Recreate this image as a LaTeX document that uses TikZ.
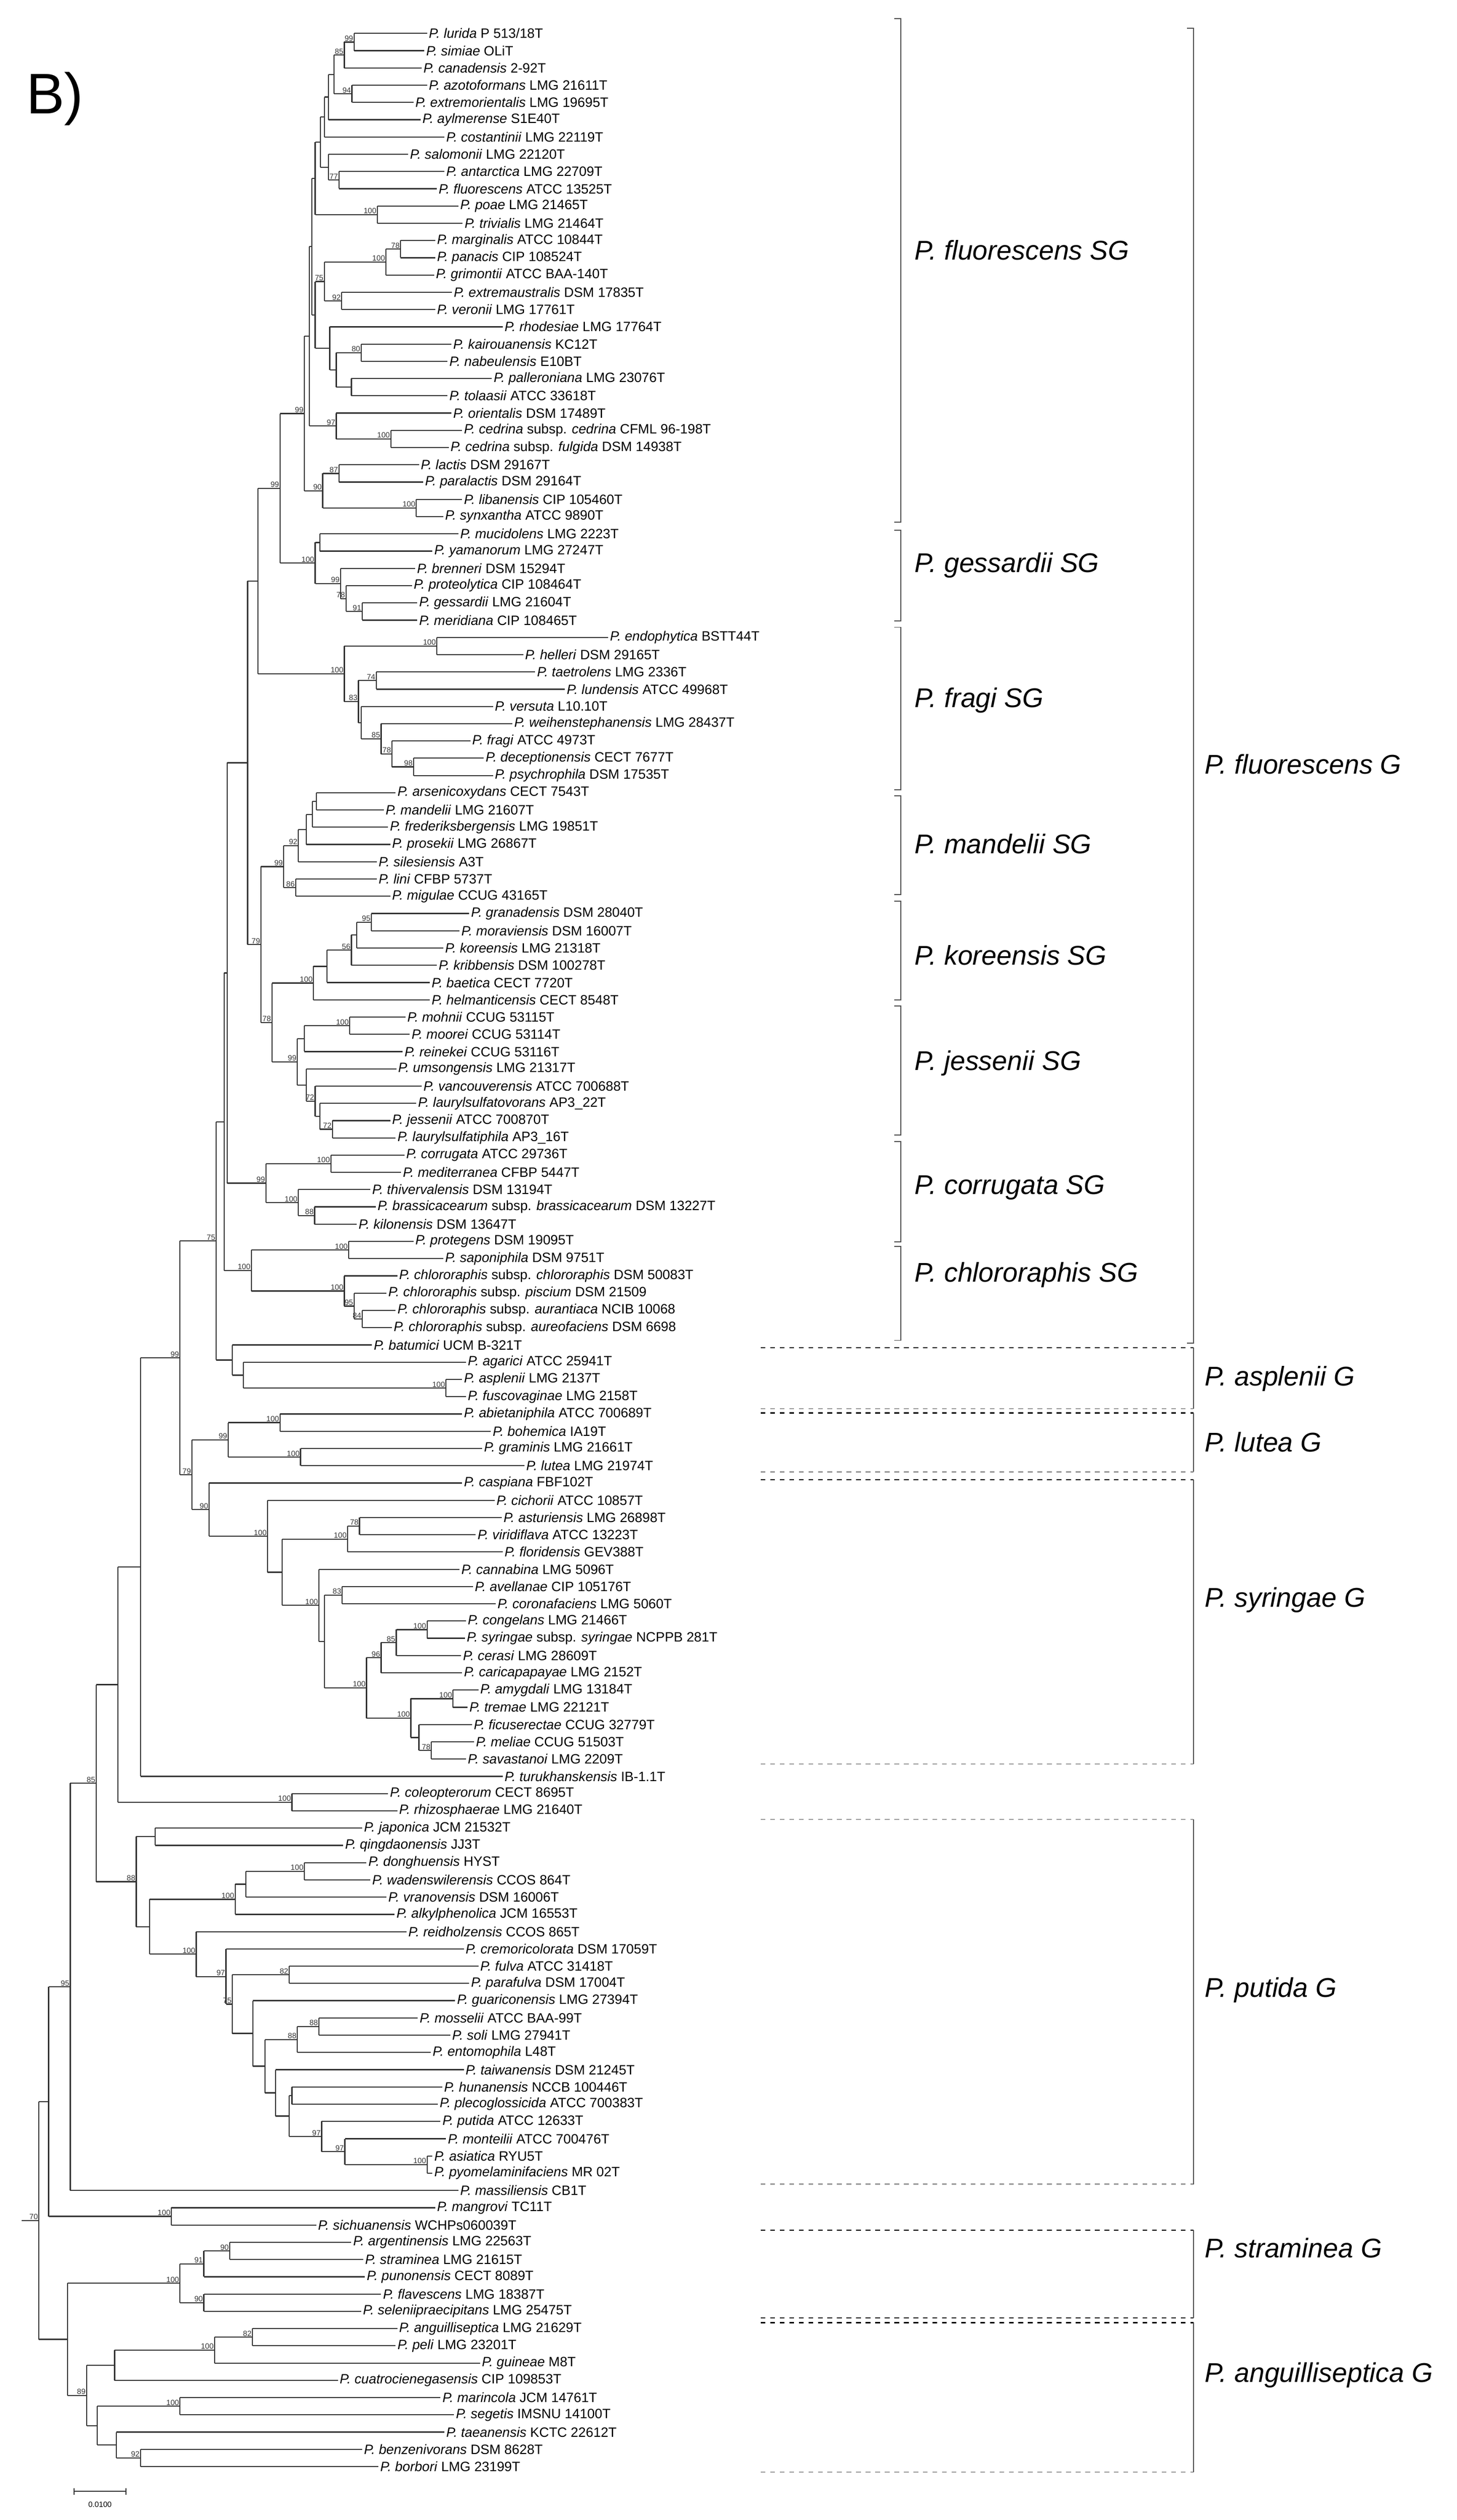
\documentclass[tikz,border=0pt]{standalone}
\usepackage{fontspec}
\setmainfont{Liberation Sans}
\usetikzlibrary{calc}
\newcommand\sn[1]{\textit{#1}}
\tikzset{
 br/.style={line width=0.7pt,black!80},
 leaf/.style={anchor=west,inner sep=1pt,font=\fontsize{8.5}{9}\selectfont},
 bsl/.style={anchor=south east,inner sep=0.4pt,font=\fontsize{4.8}{5}\selectfont,text=black!80},
 brk/.style={line width=0.6pt,black!70},
 grp/.style={anchor=west,inner sep=0pt,font=\fontsize{17}{18}\selectfont\itshape},
 dtop/.style={line width=0.7pt,dashed,black},
 dbot/.style={line width=0.7pt,dashed,black!40},
}
\newcommand\lf[3]{\coordinate (L#1) at (#2,{21+(#1-1)*10.84});\node[leaf] (T#1) at (L#1) {#3};}
\newcommand\cl[6]{%
 \coordinate (#1) at ($(#2,0 |- #4)!0.5!(#2,0 |- #5)$);
 \draw[br] (#2,0 |- #4) -- (#2,0 |- #5);
 \foreach \c in {#6} {\draw[br] (#2,0 |- \c) -- (\c);}
 \node[bsl] (bs#1) at (#1) {#3};}
\begin{document}
\begin{tikzpicture}[x=0.3397pt,y=-1pt]
\path[use as bounding box] (0pt,0pt) rectangle (915.4pt,-1583pt);
\node[anchor=west,inner sep=0pt,font=\fontsize{36}{36}\selectfont] (title) at (48,62) {B)};
\lf{1}{790}{\sn{P. lurida} P 513/18T}
\lf{2}{785}{\sn{P. simiae} OLiT}
\lf{3}{780}{\sn{P. canadensis} 2-92T}
\lf{4}{790}{\sn{P. azotoformans} LMG 21611T}
\lf{5}{765}{\sn{P. extremorientalis} LMG 19695T}
\lf{6}{778}{\sn{P. aylmerense} S1E40T}
\lf{7}{822}{\sn{P. costantinii} LMG 22119T}
\lf{8}{755}{\sn{P. salomonii} LMG 22120T}
\lf{9}{822}{\sn{P. antarctica} LMG 22709T}
\lf{10}{808}{\sn{P. fluorescens} ATCC 13525T}
\lf{11}{848}{\sn{P. poae} LMG 21465T}
\lf{12}{856}{\sn{P. trivialis} LMG 21464T}
\lf{13}{805}{\sn{P. marginalis} ATCC 10844T}
\lf{14}{805}{\sn{P. panacis} CIP 108524T}
\lf{15}{803}{\sn{P. grimontii} ATCC BAA-140T}
\lf{16}{836}{\sn{P. extremaustralis} DSM 17835T}
\lf{17}{805}{\sn{P. veronii} LMG 17761T}
\lf{18}{930}{\sn{P. rhodesiae} LMG 17764T}
\lf{19}{835}{\sn{P. kairouanensis} KC12T}
\lf{20}{828}{\sn{P. nabeulensis} E10BT}
\lf{21}{910}{\sn{P. palleroniana} LMG 23076T}
\lf{22}{828}{\sn{P. tolaasii} ATCC 33618T}
\lf{23}{835}{\sn{P. orientalis} DSM 17489T}
\lf{24}{855}{\sn{P. cedrina} subsp. \sn{cedrina} CFML 96-198T}
\lf{25}{830}{\sn{P. cedrina} subsp. \sn{fulgida} DSM 14938T}
\lf{26}{775}{\sn{P. lactis} DSM 29167T}
\lf{27}{783}{\sn{P. paralactis} DSM 29164T}
\lf{28}{855}{\sn{P. libanensis} CIP 105460T}
\lf{29}{820}{\sn{P. synxantha} ATCC 9890T}
\lf{30}{848}{\sn{P. mucidolens} LMG 2223T}
\lf{31}{800}{\sn{P. yamanorum} LMG 27247T}
\lf{32}{768}{\sn{P. brenneri} DSM 15294T}
\lf{33}{762}{\sn{P. proteolytica} CIP 108464T}
\lf{34}{772}{\sn{P. gessardii} LMG 21604T}
\lf{35}{772}{\sn{P. meridiana} CIP 108465T}
\lf{36}{1125}{\sn{P. endophytica} BSTT44T}
\lf{37}{968}{\sn{P. helleri} DSM 29165T}
\lf{38}{990}{\sn{P. taetrolens} LMG 2336T}
\lf{39}{1045}{\sn{P. lundensis} ATCC 49968T}
\lf{40}{912}{\sn{P. versuta} L10.10T}
\lf{41}{948}{\sn{P. weihenstephanensis} LMG 28437T}
\lf{42}{870}{\sn{P. fragi} ATCC 4973T}
\lf{43}{895}{\sn{P. deceptionensis} CECT 7677T}
\lf{44}{912}{\sn{P. psychrophila} DSM 17535T}
\lf{45}{732}{\sn{P. arsenicoxydans} CECT 7543T}
\lf{46}{710}{\sn{P. mandelii} LMG 21607T}
\lf{47}{718}{\sn{P. frederiksbergensis} LMG 19851T}
\lf{48}{722}{\sn{P. prosekii} LMG 26867T}
\lf{49}{697}{\sn{P. silesiensis} A3T}
\lf{50}{697}{\sn{P. lini} CFBP 5737T}
\lf{51}{722}{\sn{P. migulae} CCUG 43165T}
\lf{52}{868}{\sn{P. granadensis} DSM 28040T}
\lf{53}{850}{\sn{P. moraviensis} DSM 16007T}
\lf{54}{820}{\sn{P. koreensis} LMG 21318T}
\lf{55}{808}{\sn{P. kribbensis} DSM 100278T}
\lf{56}{795}{\sn{P. baetica} CECT 7720T}
\lf{57}{795}{\sn{P. helmanticensis} CECT 8548T}
\lf{58}{750}{\sn{P. mohnii} CCUG 53115T}
\lf{59}{758}{\sn{P. moorei} CCUG 53114T}
\lf{60}{745}{\sn{P. reinekei} CCUG 53116T}
\lf{61}{733}{\sn{P. umsongensis} LMG 21317T}
\lf{62}{780}{\sn{P. vancouverensis} ATCC 700688T}
\lf{63}{770}{\sn{P. laurylsulfatovorans} AP3\_22T}
\lf{64}{722}{\sn{P. jessenii} ATCC 700870T}
\lf{65}{732}{\sn{P. laurylsulfatiphila} AP3\_16T}
\lf{66}{748}{\sn{P. corrugata} ATCC 29736T}
\lf{67}{742}{\sn{P. mediterranea} CFBP 5447T}
\lf{68}{685}{\sn{P. thivervalensis} DSM 13194T}
\lf{69}{695}{\sn{P. brassicacearum} subsp. \sn{brassicacearum} DSM 13227T}
\lf{70}{660}{\sn{P. kilonensis} DSM 13647T}
\lf{71}{765}{\sn{P. protegens} DSM 19095T}
\lf{72}{820}{\sn{P. saponiphila} DSM 9751T}
\lf{73}{735}{\sn{P. chlororaphis} subsp. \sn{chlororaphis} DSM 50083T}
\lf{74}{715}{\sn{P. chlororaphis} subsp. \sn{piscium} DSM 21509}
\lf{75}{732}{\sn{P. chlororaphis} subsp. \sn{aurantiaca} NCIB 10068}
\lf{76}{725}{\sn{P. chlororaphis} subsp. \sn{aureofaciens} DSM 6698}
\lf{77}{688}{\sn{P. batumici} UCM B-321T}
\lf{78}{862}{\sn{P. agarici} ATCC 25941T}
\lf{79}{855}{\sn{P. asplenii} LMG 2137T}
\lf{80}{862}{\sn{P. fuscovaginae} LMG 2158T}
\lf{81}{855}{\sn{P. abietaniphila} ATCC 700689T}
\lf{82}{908}{\sn{P. bohemica} IA19T}
\lf{83}{892}{\sn{P. graminis} LMG 21661T}
\lf{84}{970}{\sn{P. lutea} LMG 21974T}
\lf{85}{855}{\sn{P. caspiana} FBF102T}
\lf{86}{915}{\sn{P. cichorii} ATCC 10857T}
\lf{87}{928}{\sn{P. asturiensis} LMG 26898T}
\lf{88}{880}{\sn{P. viridiflava} ATCC 13223T}
\lf{89}{930}{\sn{P. floridensis} GEV388T}
\lf{90}{850}{\sn{P. cannabina} LMG 5096T}
\lf{91}{875}{\sn{P. avellanae} CIP 105176T}
\lf{92}{917}{\sn{P. coronafaciens} LMG 5060T}
\lf{93}{862}{\sn{P. congelans} LMG 21466T}
\lf{94}{860}{\sn{P. syringae} subsp. \sn{syringae} NCPPB 281T}
\lf{95}{853}{\sn{P. cerasi} LMG 28609T}
\lf{96}{855}{\sn{P. caricapapayae} LMG 2152T}
\lf{97}{885}{\sn{P. amygdali} LMG 13184T}
\lf{98}{865}{\sn{P. tremae} LMG 22121T}
\lf{99}{873}{\sn{P. ficuserectae} CCUG 32779T}
\lf{100}{877}{\sn{P. meliae} CCUG 51503T}
\lf{101}{862}{\sn{P. savastanoi} LMG 2209T}
\lf{102}{930}{\sn{P. turukhanskensis} IB-1.1T}
\lf{103}{718}{\sn{P. coleopterorum} CECT 8695T}
\lf{104}{735}{\sn{P. rhizosphaerae} LMG 21640T}
\lf{105}{670}{\sn{P. japonica} JCM 21532T}
\lf{106}{635}{\sn{P. qingdaonensis} JJ3T}
\lf{107}{678}{\sn{P. donghuensis} HYST}
\lf{108}{685}{\sn{P. wadenswilerensis} CCOS 864T}
\lf{109}{715}{\sn{P. vranovensis} DSM 16006T}
\lf{110}{730}{\sn{P. alkylphenolica} JCM 16553T}
\lf{111}{752}{\sn{P. reidholzensis} CCOS 865T}
\lf{112}{858}{\sn{P. cremoricolorata} DSM 17059T}
\lf{113}{885}{\sn{P. fulva} ATCC 31418T}
\lf{114}{868}{\sn{P. parafulva} DSM 17004T}
\lf{115}{842}{\sn{P. guariconensis} LMG 27394T}
\lf{116}{773}{\sn{P. mosselii} ATCC BAA-99T}
\lf{117}{833}{\sn{P. soli} LMG 27941T}
\lf{118}{797}{\sn{P. entomophila} L48T}
\lf{119}{858}{\sn{P. taiwanensis} DSM 21245T}
\lf{120}{818}{\sn{P. hunanensis} NCCB 100446T}
\lf{121}{810}{\sn{P. plecoglossicida} ATCC 700383T}
\lf{122}{815}{\sn{P. putida} ATCC 12633T}
\lf{123}{825}{\sn{P. monteilii} ATCC 700476T}
\lf{124}{800}{\sn{P. asiatica} RYU5T}
\lf{125}{800}{\sn{P. pyomelaminifaciens} MR 02T}
\lf{126}{848}{\sn{P. massiliensis} CB1T}
\lf{127}{805}{\sn{P. mangrovi} TC11T}
\lf{128}{585}{\sn{P. sichuanensis} WCHPs060039T}
\lf{129}{650}{\sn{P. argentinensis} LMG 22563T}
\lf{130}{672}{\sn{P. straminea} LMG 21615T}
\lf{131}{675}{\sn{P. punonensis} CECT 8089T}
\lf{132}{705}{\sn{P. flavescens} LMG 18387T}
\lf{133}{668}{\sn{P. seleniipraecipitans} LMG 25475T}
\lf{134}{735}{\sn{P. anguilliseptica} LMG 21629T}
\lf{135}{732}{\sn{P. peli} LMG 23201T}
\lf{136}{888}{\sn{P. guineae} M8T}
\lf{137}{625}{\sn{P. cuatrocienegasensis} CIP 109853T}
\lf{138}{815}{\sn{P. marincola} JCM 14761T}
\lf{139}{840}{\sn{P. segetis} IMSNU 14100T}
\lf{140}{822}{\sn{P. taeanensis} KCTC 22612T}
\lf{141}{670}{\sn{P. benzenivorans} DSM 8628T}
\lf{142}{700}{\sn{P. borbori} LMG 23199T}
% fluorescens SG
\cl{a1}{655}{99}{L1}{L2}{L1,L2}
\cl{a2}{637}{85}{a1}{L3}{a1,L3}
\cl{a3}{651}{94}{L4}{L5}{L4,L5}
\cl{a4}{618}{}{a2}{a3}{a2,a3}
\cl{a5}{608}{}{a4}{L6}{a4,L6}
\cl{a6}{600}{}{a5}{L7}{a5,L7}
\cl{a7}{627}{77}{L9}{L10}{L9,L10}
\cl{a8}{608}{}{L8}{a7}{L8,a7}
\cl{a9}{593}{}{a6}{a8}{a6,a8}
\cl{a10}{698}{100}{L11}{L12}{L11,L12}
\cl{a11}{583}{}{a9}{a10}{a9,a10}
\cl{a12}{741}{78}{L13}{L14}{L13,L14}
\cl{a13}{714}{100}{a12}{L15}{a12,L15}
\cl{a14}{632}{92}{L16}{L17}{L16,L17}
\cl{a15}{600}{75}{a13}{a14}{a13,a14}
\cl{a16}{668}{80}{L19}{L20}{L19,L20}
\cl{a17}{650}{}{L21}{L22}{L21,L22}
\cl{a18}{622}{}{a16}{a17}{a16,a17}
\cl{a19}{610}{}{L18}{a18}{L18,a18}
\cl{a20}{583}{}{a15}{a19}{a15,a19}
\cl{a21}{577}{}{a11}{a20}{a11,a20}
\cl{a22}{723}{100}{L24}{L25}{L24,L25}
\cl{a23}{622}{97}{L23}{a22}{L23,a22}
\cl{a24}{572}{}{a21}{a23}{a21,a23}
\cl{a25}{627}{87}{L26}{L27}{L26,L27}
\cl{a26}{770}{100}{L28}{L29}{L28,L29}
\cl{a27}{597}{90}{a25}{a26}{a25,a26}
\cl{a28}{563}{99}{a24}{a27}{a24,a27}
% gessardii SG
\cl{b1}{592}{}{L30}{L31}{L30,L31}
\cl{b2}{670}{91}{L34}{L35}{L34,L35}
\cl{b3}{640}{78}{L33}{b2}{L33,b2}
\cl{b4}{630}{99}{L32}{b3}{L32,b3}
\cl{b5}{583}{100}{b1}{b4}{b1,b4}
\cl{b6}{518}{99}{a28}{b5}{a28,b5}
% fragi SG
\cl{c1}{808}{100}{L36}{L37}{L36,L37}
\cl{c2}{696}{74}{L38}{L39}{L38,L39}
\cl{c3}{765}{98}{L43}{L44}{L43,L44}
\cl{c4}{725}{78}{L42}{c3}{L42,c3}
\cl{c5}{705}{85}{L41}{c4}{L41,c4}
\cl{c6}{668}{}{L40}{c5}{L40,c5}
\cl{c7}{663}{83}{c2}{c6}{c2,c6}
\cl{c8}{637}{100}{c1}{c7}{c1,c7}
\cl{c9}{477}{}{b6}{c8}{b6,c8}
% mandelii SG
\cl{d1}{585}{}{L45}{L46}{L45,L46}
\cl{d2}{578}{}{d1}{L47}{d1,L47}
\cl{d3}{567}{}{d2}{L48}{d2,L48}
\cl{d4}{552}{92}{d3}{L49}{d3,L49}
\cl{d5}{547}{86}{L50}{L51}{L50,L51}
\cl{d6}{525}{99}{d4}{d5}{d4,d5}
% koreensis SG
\cl{e1}{687}{95}{L52}{L53}{L52,L53}
\cl{e2}{660}{}{e1}{L54}{e1,L54}
\cl{e3}{650}{56}{e2}{L55}{e2,L55}
\cl{e4}{605}{}{e3}{L56}{e3,L56}
\cl{e5}{580}{100}{e4}{L57}{e4,L57}
% jessenii SG
\cl{f1}{647}{100}{L58}{L59}{L58,L59}
\cl{f2}{563}{}{f1}{L60}{f1,L60}
\cl{f3}{615}{72}{L64}{L65}{L64,L65}
\cl{f4}{592}{}{L63}{f3}{L63,f3}
\cl{f5}{583}{72}{L62}{f4}{L62,f4}
\cl{f6}{567}{}{L61}{f5}{L61,f5}
\cl{f7}{550}{99}{f2}{f6}{f2,f6}
\cl{g1}{503}{78}{e5}{f7}{e5,f7}
\cl{g2}{483}{79}{d6}{g1}{d6,g1}
\cl{g3}{458}{}{c9}{g2}{c9,g2}
% corrugata SG
\cl{h1}{612}{100}{L66}{L67}{L66,L67}
\cl{h2}{582}{88}{L69}{L70}{L69,L70}
\cl{h3}{552}{100}{L68}{h2}{L68,h2}
\cl{h4}{492}{99}{h1}{h3}{h1,h3}
% chlororaphis SG
\cl{i1}{645}{100}{L71}{L72}{L71,L72}
\cl{i2}{670}{84}{L75}{L76}{L75,L76}
\cl{i3}{655}{95}{L74}{i2}{L74,i2}
\cl{i4}{637}{100}{L73}{i3}{L73,i3}
\cl{i5}{465}{100}{i1}{i4}{i1,i4}
\cl{j1}{420}{}{g3}{h4}{g3,h4}
\cl{j2}{415}{}{j1}{i5}{j1,i5}
% asplenii G
\cl{k1}{825}{100}{L79}{L80}{L79,L80}
\cl{k2}{450}{}{L78}{k1}{L78,k1}
\cl{k3}{430}{}{L77}{k2}{L77,k2}
\cl{k4}{400}{75}{j2}{k3}{j2,k3}
% lutea G
\cl{l1}{518}{100}{L81}{L82}{L81,L82}
\cl{l2}{556}{100}{L83}{L84}{L83,L84}
\cl{l3}{422}{99}{l1}{l2}{l1,l2}
% syringae G
\cl{m1}{665}{78}{L87}{L88}{L87,L88}
\cl{m2}{643}{100}{m1}{L89}{m1,L89}
\cl{m3}{633}{83}{L91}{L92}{L91,L92}
\cl{m4}{790}{100}{L93}{L94}{L93,L94}
\cl{m5}{733}{85}{m4}{L95}{m4,L95}
\cl{m6}{705}{96}{m5}{L96}{m5,L96}
\cl{m7}{838}{100}{L97}{L98}{L97,L98}
\cl{m8}{798}{78}{L100}{L101}{L100,L101}
\cl{m9}{775}{}{L99}{m8}{L99,m8}
\cl{m10}{760}{100}{m7}{m9}{m7,m9}
\cl{m11}{678}{100}{m6}{m10}{m6,m10}
\cl{m12}{600}{}{m3}{m11}{m3,m11}
\cl{m13}{590}{100}{L90}{m12}{L90,m12}
\cl{m14}{522}{}{m2}{m13}{m2,m13}
\cl{m15}{495}{100}{L86}{m14}{L86,m14}
\cl{m16}{387}{90}{L85}{m15}{L85,m15}
\cl{n1}{355}{79}{l3}{m16}{l3,m16}
\cl{n2}{333}{99}{k4}{n1}{k4,n1}
\cl{n3}{260}{}{n2}{L102}{n2,L102}
\cl{n4}{540}{100}{L103}{L104}{L103,L104}
\cl{n5}{218}{}{n3}{n4}{n3,n4}
% putida G
\cl{p1}{287}{}{L105}{L106}{L105,L106}
\cl{p2}{563}{100}{L107}{L108}{L107,L108}
\cl{p3}{455}{}{p2}{L109}{p2,L109}
\cl{p4}{435}{100}{p3}{L110}{p3,L110}
\cl{p5}{535}{82}{L113}{L114}{L113,L114}
\cl{p6}{590}{88}{L116}{L117}{L116,L117}
\cl{p7}{550}{88}{p6}{L118}{p6,L118}
\cl{p8}{790}{100}{L124}{L125}{L124,L125}
\cl{p9}{638}{97}{L123}{p8}{L123,p8}
\cl{p10}{595}{97}{L122}{p9}{L122,p9}
\cl{p11}{540}{}{L120}{L121}{L120,L121}
\cl{p12}{535}{}{p11}{p10}{p11,p10}
\cl{p13}{510}{}{L119}{p12}{L119,p12}
\cl{p14}{490}{}{p7}{p13}{p7,p13}
\cl{p15}{468}{}{L115}{p14}{L115,p14}
\cl{p16}{430}{75}{p5}{p15}{p5,p15}
\cl{p17}{418}{97}{L112}{p16}{L112,p16}
\cl{p18}{363}{100}{L111}{p17}{L111,p17}
\cl{p19}{277}{}{p4}{p18}{p4,p18}
\cl{p20}{252}{88}{p1}{p19}{p1,p19}
\cl{q1}{178}{85}{n5}{p20}{n5,p20}
\cl{q2}{130}{95}{q1}{L126}{q1,L126}
\cl{q3}{317}{100}{L127}{L128}{L127,L128}
\cl{q4}{90}{}{q2}{q3}{q2,q3}
% straminea G
\cl{s1}{425}{90}{L129}{L130}{L129,L130}
\cl{s2}{377}{91}{s1}{L131}{s1,L131}
\cl{s3}{377}{90}{L132}{L133}{L132,L133}
\cl{s4}{333}{100}{s2}{s3}{s2,s3}
% anguilliseptica G
\cl{t1}{467}{82}{L134}{L135}{L134,L135}
\cl{t2}{397}{100}{t1}{L136}{t1,L136}
\cl{t3}{212}{}{t2}{L137}{t2,L137}
\cl{t4}{333}{100}{L138}{L139}{L138,L139}
\cl{t5}{260}{92}{L141}{L142}{L141,L142}
\cl{t6}{215}{}{L140}{t5}{L140,t5}
\cl{t7}{180}{}{t4}{t6}{t4,t6}
\cl{t8}{160}{89}{t3}{t7}{t3,t7}
\cl{t9}{125}{}{s4}{t8}{s4,t8}
\cl{r0}{72}{70}{q4}{t9}{q4,t9}
\coordinate (root) at (40,0 |- r0);
\draw[br] (root) -- (r0);
% scale bar
\coordinate (sb1) at (137,1565);
\coordinate (sb2) at (233,1565);
\draw[br] (sb1) -- (sb2);
\draw[br] ([yshift=2pt]sb1) -- ([yshift=-2pt]sb1);
\draw[br] ([yshift=2pt]sb2) -- ([yshift=-2pt]sb2);
\node[font=\fontsize{4.8}{5}\selectfont,anchor=north] (sbl) at ($(sb1)!0.5!(sb2)+(0,3)$) {0.0100};
% brackets
\begin{scope}[x=1pt,y=-1pt]
\foreach \nm/\ta/\tb/\ly/\tx in {fl/11.8/328/157/P. fluorescens SG, ge/333/390/355/P. gessardii SG, fr/394/496/440/P. fragi SG, ma/500/562/530/P. mandelii SG, ko/566/628/600/P. koreensis SG, je/632/713/668/P. jessenii SG, co/717/780/746/P. corrugata SG, ch/783/842/801/P. chlororaphis SG}{
 \draw[brk] (562,\ta) -- (566,\ta) -- (566,\tb) -- (562,\tb);
 \node[grp] (sg\nm) at (574.6,\ly) {\tx};
}
\draw[brk] (746,17.8) -- (750,17.8) -- (750,843.6) -- (746,843.6);
\node[grp] (gfl) at (757,480) {P. fluorescens G};
\foreach \nm/\ta/\tb/\ly/\tx/\st/\sb in {as/846.5/885/866/P. asplenii G/dtop/dbot, lu/887.6/924.6/906/P. lutea G/dtop/dbot, sy/929.5/1108/1005/P. syringae G/dtop/dbot, pu/1143/1372/1250/P. putida G/dbot/dbot, st/1401/1456/1412/P. straminea G/dtop/dtop, an/1459/1553/1492/P. anguilliseptica G/dtop/dbot}{
 \draw[\st] (478,\ta) -- (750,\ta);
 \draw[\sb] (478,\tb) -- (750,\tb);
 \draw[brk] (750,\ta) -- (750,\tb);
 \node[grp] (g\nm) at (757,\ly) {\tx};
}
\end{scope}
\end{tikzpicture}
\end{document}
